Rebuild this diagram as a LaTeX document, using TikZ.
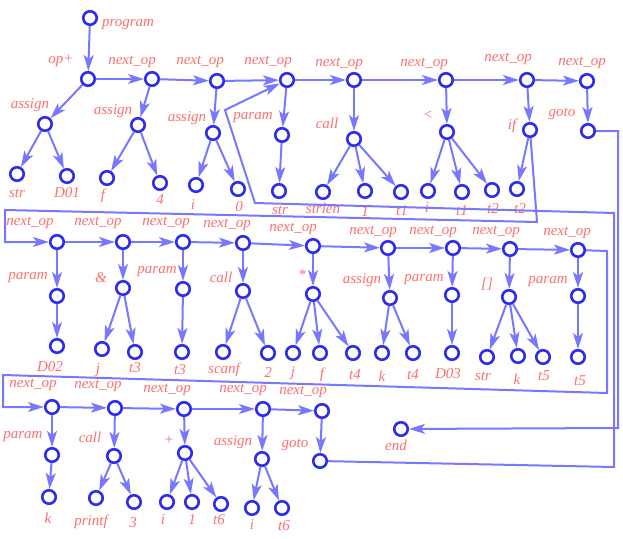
\documentclass[tikz,border=0pt]{standalone}
\usepackage{fontspec}
\setmainfont{Liberation Serif}
\usetikzlibrary{arrows.meta}
\definecolor{vblue}{RGB}{45,45,235}
\definecolor{eblue}{RGB}{120,120,255}
\definecolor{lred}{RGB}{255,110,110}

\begin{document}
\begin{tikzpicture}[x=1pt,y=-1pt,
  vert/.style={circle,draw=vblue,line width=2.6pt,fill=white,minimum size=13.5pt,inner sep=0pt},
  edge/.style={draw=eblue,line width=2pt,-{Stealth[length=16pt,width=10pt,inset=4pt]}},
  lbl/.style={text=lred,font=\fontsize{15}{18}\selectfont\itshape,inner sep=0pt}]
\useasboundingbox (0,0) rectangle (623,538);

% first row
\node[vert] (prog) at (90,18) {};
\node[vert] (op) at (88,79) {};
\node[vert] (a1) at (152,79) {};
\node[vert] (a2) at (217,81) {};
\node[vert] (a3) at (287,80) {};
\node[vert] (a4) at (354,80) {};
\node[vert] (a5) at (446,80) {};
\node[vert] (a6) at (527,80) {};
\node[vert] (a7) at (587,81) {};

\node[vert] (a0c) at (45,124) {};
\node[vert] (a0c1) at (17,174) {};
\node[vert] (a0c2) at (67,176) {};
\node[vert] (a1c) at (138,125) {};
\node[vert] (a1c1) at (107,178) {};
\node[vert] (a1c2) at (160,183) {};
\node[vert] (a2c) at (213,133) {};
\node[vert] (a2c1) at (196,185) {};
\node[vert] (a2c2) at (238,189) {};
\node[vert] (a3c) at (282,135) {};
\node[vert] (a3c1) at (279,191) {};
\node[vert] (a4c) at (354,139) {};
\node[vert] (a4c1) at (323,192) {};
\node[vert] (a4c2) at (365,191) {};
\node[vert] (a4c3) at (401,192) {};
\node[vert] (a5c) at (447,132) {};
\node[vert] (a5c1) at (428,191) {};
\node[vert] (a5c2) at (462,192) {};
\node[vert] (a5c3) at (492,190) {};
\node[vert] (a6c) at (530,130) {};
\node[vert] (a6c1) at (517,189) {};
\node[vert] (a7c) at (588,131) {};

\draw (128,25) node[lbl] (tprog) {program};
\draw (61,61) node[lbl] (top) {op+};
\draw (132,62) node[lbl] (ta1) {next\_op};
\draw (200,62) node[lbl] (ta2) {next\_op};
\draw (268,62) node[lbl] (ta3) {next\_op};
\draw (339,64) node[lbl] (ta4) {next\_op};
\draw (424,64) node[lbl] (ta5) {next\_op};
\draw (508,59) node[lbl] (ta6) {next\_op};
\draw (582,63) node[lbl] (ta7) {next\_op};

\draw (30,105) node[lbl] (ta0c) {assign};
\draw (113,111) node[lbl] (ta1c) {assign};
\draw (187,118) node[lbl] (ta2c) {assign};
\draw (253,118) node[lbl] (ta3c) {param};
\draw (327,123) node[lbl] (ta4c) {call};
\draw (428,115) node[lbl] (ta5c) {<};
\draw (512,126) node[lbl] (ta6c) {if};
\draw (562,114) node[lbl] (ta7c) {goto};

\draw (17,193) node[lbl] (ta0c1) {str};
\draw (67,193) node[lbl] (ta0c2) {D01};
\draw (103,196) node[lbl] (ta1c1) {f};
\draw (160,200) node[lbl] (ta1c2) {4};
\draw (193,205) node[lbl] (ta2c1) {i};
\draw (239,207) node[lbl] (ta2c2) {0};
\draw (280,210) node[lbl] (ta3c1) {str};
\draw (323,208) node[lbl] (ta4c1) {strlen};
\draw (365,212) node[lbl] (ta4c2) {1};
\draw (402,211) node[lbl] (ta4c3) {t1};
\draw (427,208) node[lbl] (ta5c1) {i};
\draw (462,211) node[lbl] (ta5c2) {t1};
\draw (493,209) node[lbl] (ta5c3) {t2};
\draw (520,209) node[lbl] (ta6c1) {t2};

% second row
\node[vert] (b1) at (57,242) {};
\node[vert] (b2) at (123,242) {};
\node[vert] (b3) at (183,242) {};
\node[vert] (b4) at (243,243) {};
\node[vert] (b5) at (313,246) {};
\node[vert] (b6) at (388,248) {};
\node[vert] (b7) at (453,248) {};
\node[vert] (b8) at (510,249) {};
\node[vert] (b9) at (578,250) {};

\node[vert] (b1c) at (57,296) {};
\node[vert] (b1c1) at (57,346) {};
\node[vert] (b2c) at (123,288) {};
\node[vert] (b2c1) at (102,349) {};
\node[vert] (b2c2) at (135,352) {};
\node[vert] (b3c) at (183,289) {};
\node[vert] (b3c1) at (182,352) {};
\node[vert] (b4c) at (243,291) {};
\node[vert] (b4c1) at (223,352) {};
\node[vert] (b4c2) at (268,353) {};
\node[vert] (b5c) at (313,294) {};
\node[vert] (b5c1) at (293,353) {};
\node[vert] (b5c2) at (320,353) {};
\node[vert] (b5c3) at (353,353) {};
\node[vert] (b6c) at (390,298) {};
\node[vert] (b6c1) at (382,353) {};
\node[vert] (b6c2) at (413,353) {};
\node[vert] (b7c) at (452,295) {};
\node[vert] (b7c1) at (452,353) {};
\node[vert] (b8c) at (509,297) {};
\node[vert] (b8c1) at (487,357) {};
\node[vert] (b8c2) at (518,356) {};
\node[vert] (b8c3) at (543,357) {};
\node[vert] (b9c) at (578,296) {};
\node[vert] (b9c1) at (578,357) {};

\draw (30,223) node[lbl] (tb1) {next\_op};
\draw (98,223) node[lbl] (tb2) {next\_op};
\draw (166,223) node[lbl] (tb3) {next\_op};
\draw (227,225) node[lbl] (tb4) {next\_op};
\draw (293,229) node[lbl] (tb5) {next\_op};
\draw (373,232) node[lbl] (tb6) {next\_op};
\draw (433,232) node[lbl] (tb7) {next\_op};
\draw (496,232) node[lbl] (tb8) {next\_op};
\draw (567,233) node[lbl] (tb9) {next\_op};

\draw (28,278) node[lbl] (tb1c) {param};
\draw (101,278) node[lbl] (tb2c) {\&};
\draw (157,272) node[lbl] (tb3c) {param};
\draw (221,277) node[lbl] (tb4c) {call};
\draw (302,275) node[lbl] (tb5c) {*};
\draw (362,280) node[lbl] (tb6c) {assign};
\draw (424,280) node[lbl] (tb7c) {param};
\draw (487,284) node[lbl] (tb8c) {[]};
\draw (548,282) node[lbl] (tb9c) {param};

\draw (50,367) node[lbl] (tb1c1) {D02};
\draw (98,370) node[lbl] (tb2c1) {j};
\draw (135,368) node[lbl] (tb2c2) {t3};
\draw (180,370) node[lbl] (tb3c1) {t3};
\draw (224,370) node[lbl] (tb4c1) {scanf};
\draw (268,373) node[lbl] (tb4c2) {2};
\draw (293,373) node[lbl] (tb5c1) {j};
\draw (322,375) node[lbl] (tb5c2) {f};
\draw (355,375) node[lbl] (tb5c3) {t4};
\draw (382,376) node[lbl] (tb6c1) {k};
\draw (413,375) node[lbl] (tb6c2) {t4};
\draw (448,374) node[lbl] (tb7c1) {D03};
\draw (483,376) node[lbl] (tb8c1) {str};
\draw (517,379) node[lbl] (tb8c2) {k};
\draw (544,376) node[lbl] (tb8c3) {t5};
\draw (580,381) node[lbl] (tb9c1) {t5};

% third row
\node[vert] (c1) at (52,407) {};
\node[vert] (c2) at (115,408) {};
\node[vert] (c3) at (184,409) {};
\node[vert] (c4) at (263,409) {};
\node[vert] (c5) at (322,411) {};

\node[vert] (c1c) at (52,455) {};
\node[vert] (c1c1) at (49,497) {};
\node[vert] (c2c) at (114,456) {};
\node[vert] (c2c1) at (96,498) {};
\node[vert] (c2c2) at (134,502) {};
\node[vert] (c3c) at (185,453) {};
\node[vert] (c3c1) at (167,502) {};
\node[vert] (c3c2) at (192,502) {};
\node[vert] (c3c3) at (221,504) {};
\node[vert] (c4c) at (262,459) {};
\node[vert] (c4c1) at (252,508) {};
\node[vert] (c4c2) at (282,508) {};
\node[vert] (c5c) at (320,461) {};
\node[vert] (fin) at (401,429) {};

\draw (33,385) node[lbl] (tc1) {next\_op};
\draw (98,386) node[lbl] (tc2) {next\_op};
\draw (167,390) node[lbl] (tc3) {next\_op};
\draw (243,390) node[lbl] (tc4) {next\_op};
\draw (303,392) node[lbl] (tc5) {next\_op};

\draw (23,437) node[lbl] (tc1c) {param};
\draw (90,437) node[lbl] (tc2c) {call};
\draw (169,440) node[lbl] (tc3c) {+};
\draw (233,442) node[lbl] (tc4c) {assign};
\draw (295,445) node[lbl] (tc5c) {goto};
\draw (396,445) node[lbl] (tfin) {end};

\draw (48,518) node[lbl] (tc1c1) {k};
\draw (91,522) node[lbl] (tc2c1) {printf};
\draw (133,523) node[lbl] (tc2c2) {3};
\draw (163,520) node[lbl] (tc3c1) {i};
\draw (192,520) node[lbl] (tc3c2) {1};
\draw (219,520) node[lbl] (tc3c3) {t6};
\draw (252,525) node[lbl] (tc4c1) {i};
\draw (284,526) node[lbl] (tc4c2) {t6};

% the chains
\draw[edge] (prog) -- (op);
\draw[edge] (op) -- (a1);
\draw[edge] (a1) -- (a2);
\draw[edge] (a2) -- (a3);
\draw[edge] (a3) -- (a4);
\draw[edge] (a4) -- (a5);
\draw[edge] (a5) -- (a6);
\draw[edge] (a6) -- (a7);

\draw[edge] (b1) -- (b2);
\draw[edge] (b2) -- (b3);
\draw[edge] (b3) -- (b4);
\draw[edge] (b4) -- (b5);
\draw[edge] (b5) -- (b6);
\draw[edge] (b6) -- (b7);
\draw[edge] (b7) -- (b8);
\draw[edge] (b8) -- (b9);

\draw[edge] (c1) -- (c2);
\draw[edge] (c2) -- (c3);
\draw[edge] (c3) -- (c4);
\draw[edge] (c4) -- (c5);

% the subtrees
\draw[edge] (op) -- (a0c);
\draw[edge] (a0c) -- (a0c1);
\draw[edge] (a0c) -- (a0c2);
\draw[edge] (a1) -- (a1c);
\draw[edge] (a1c) -- (a1c1);
\draw[edge] (a1c) -- (a1c2);
\draw[edge] (a2) -- (a2c);
\draw[edge] (a2c) -- (a2c1);
\draw[edge] (a2c) -- (a2c2);
\draw[edge] (a3) -- (a3c);
\draw[edge] (a3c) -- (a3c1);
\draw[edge] (a4) -- (a4c);
\draw[edge] (a4c) -- (a4c1);
\draw[edge] (a4c) -- (a4c2);
\draw[edge] (a4c) -- (a4c3);
\draw[edge] (a5) -- (a5c);
\draw[edge] (a5c) -- (a5c1);
\draw[edge] (a5c) -- (a5c2);
\draw[edge] (a5c) -- (a5c3);
\draw[edge] (a6) -- (a6c);
\draw[edge] (a6c) -- (a6c1);
\draw[edge] (a7) -- (a7c);

\draw[edge] (b1) -- (b1c);
\draw[edge] (b1c) -- (b1c1);
\draw[edge] (b2) -- (b2c);
\draw[edge] (b2c) -- (b2c1);
\draw[edge] (b2c) -- (b2c2);
\draw[edge] (b3) -- (b3c);
\draw[edge] (b3c) -- (b3c1);
\draw[edge] (b4) -- (b4c);
\draw[edge] (b4c) -- (b4c1);
\draw[edge] (b4c) -- (b4c2);
\draw[edge] (b5) -- (b5c);
\draw[edge] (b5c) -- (b5c1);
\draw[edge] (b5c) -- (b5c2);
\draw[edge] (b5c) -- (b5c3);
\draw[edge] (b6) -- (b6c);
\draw[edge] (b6c) -- (b6c1);
\draw[edge] (b6c) -- (b6c2);
\draw[edge] (b7) -- (b7c);
\draw[edge] (b7c) -- (b7c1);
\draw[edge] (b8) -- (b8c);
\draw[edge] (b8c) -- (b8c1);
\draw[edge] (b8c) -- (b8c2);
\draw[edge] (b8c) -- (b8c3);
\draw[edge] (b9) -- (b9c);
\draw[edge] (b9c) -- (b9c1);

\draw[edge] (c1) -- (c1c);
\draw[edge] (c1c) -- (c1c1);
\draw[edge] (c2) -- (c2c);
\draw[edge] (c2c) -- (c2c1);
\draw[edge] (c2c) -- (c2c2);
\draw[edge] (c3) -- (c3c);
\draw[edge] (c3c) -- (c3c1);
\draw[edge] (c3c) -- (c3c2);
\draw[edge] (c3c) -- (c3c3);
\draw[edge] (c4) -- (c4c);
\draw[edge] (c4c) -- (c4c1);
\draw[edge] (c4c) -- (c4c2);
\draw[edge] (c5) -- (c5c);

% the jumps
\coordinate (p1) at (537,222);
\coordinate (p2) at (5,210);
\coordinate (p3) at (5,242);
\draw[edge] (a6c) -- (p1) -- (p2) -- (p3) -- (b1);

\coordinate (q1) at (607,251);
\coordinate (q2) at (607,393);
\coordinate (q3) at (3,375);
\coordinate (q4) at (3,407);
\draw[edge] (b9) -- (q1) -- (q2) -- (q3) -- (q4) -- (c1);

\coordinate (r1) at (618,131);
\coordinate (r2) at (618,428);
\draw[edge] (a7c) -- (r1) -- (r2) -- (fin);

\coordinate (s1) at (614,467);
\coordinate (s2) at (614,213);
\coordinate (s3) at (255,203);
\coordinate (s4) at (225,110);
\draw[edge] (c5c) -- (s1) -- (s2) -- (s3) -- (s4) -- (a3);
\end{tikzpicture}
\end{document}
